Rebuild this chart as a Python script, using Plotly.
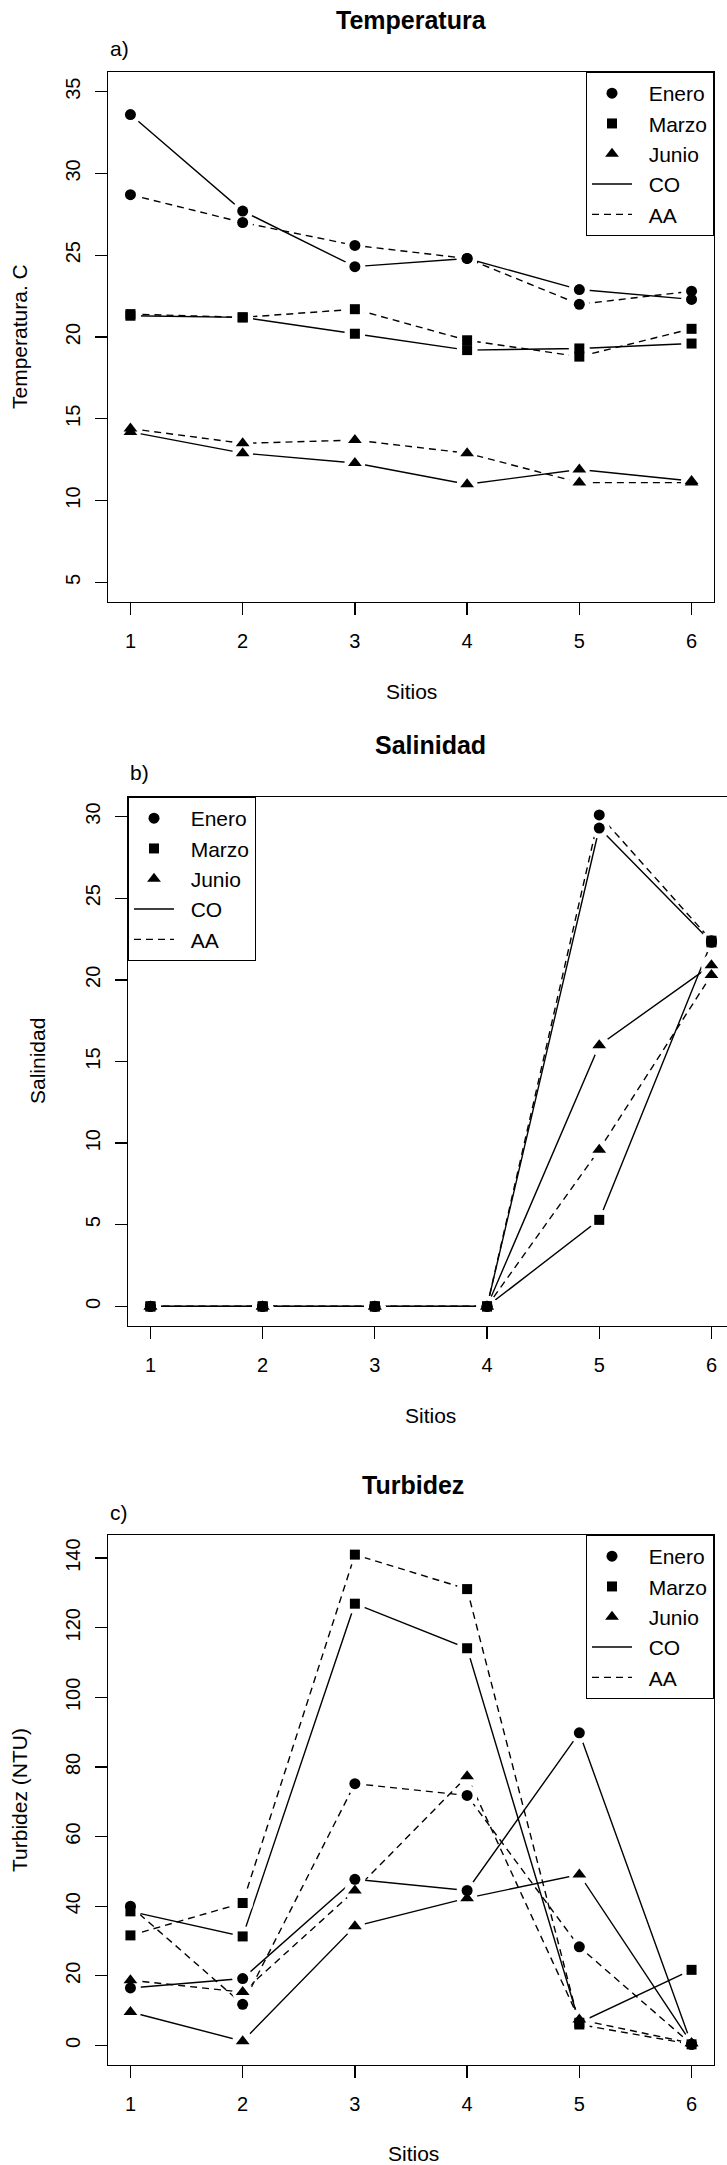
import plotly.graph_objects as go

# ---------------- data ----------------
sitios = [1, 2, 3, 4, 5, 6]
meses = ["Enero", "Marzo", "Junio"]
tratamientos = ["CO", "AA"]

# Temperatura (C)
temp_enero_co = [33.6, 27.7, 24.3, 24.8, 22.9, 22.3]
temp_enero_aa = [28.7, 27.0, 25.6, 24.8, 22.0, 22.8]
temp_marzo_co = [21.3, 21.2, 20.2, 19.2, 19.3, 19.6]
temp_marzo_aa = [21.4, 21.2, 21.7, 19.8, 18.8, 20.5]
temp_junio_co = [14.2, 12.9, 12.3, 11.0, 11.9, 11.2]
temp_junio_aa = [14.4, 13.5, 13.7, 12.9, 11.1, 11.1]

# Salinidad
sal_enero_co = [0, 0, 0, 0, 29.3, 22.3]
sal_enero_aa = [0, 0, 0, 0, 30.1, 22.4]
sal_marzo_co = [0, 0, 0, 0, 5.3, 22.3]
sal_marzo_aa = [0, 0, 0, 0, None, 22.4]
sal_junio_co = [0, 0, 0, 0, 16.0, 20.9]
sal_junio_aa = [0, 0, 0, 0, 9.6, 20.3]

# Turbidez (NTU)
turb_enero_co = [16.5, 19.2, 47.7, 44.5, 89.8, 0.3]
turb_enero_aa = [40.0, 11.8, 75.2, 71.8, 28.3, 0.3]
turb_marzo_co = [38.5, 31.3, 126.9, 114.1, 6.5, 21.7]
turb_marzo_aa = [31.6, 40.9, 141.0, 131.1, 6.0, 0.3]
turb_junio_co = [9.6, 1.2, 34.2, 42.3, 49.1, 0.6]
turb_junio_aa = [18.7, 15.3, 44.5, 77.3, 7.4, 0.6]

temp_ticks = [5, 10, 15, 20, 25, 30, 35]
sal_ticks = [0, 5, 10, 15, 20, 25, 30]
turb_ticks = [0, 20, 40, 60, 80, 100, 120, 140]

# ---------------- styling ----------------
W, H = 727, 2165
FONT = "Liberation Sans, Arial, sans-serif"


def fx(p):
    return p / W


def fy(p):
    return 1 - p / H


symbols = {"Enero": "circle", "Marzo": "square", "Junio": "triangle-up"}
msize = {"Enero": 11, "Marzo": 10, "Junio": 12}
dashes = {"CO": "solid", "AA": "7px,5px"}

panels = [
    dict(
        ax="", legend="legend",
        series={("Enero", "CO"): temp_enero_co, ("Enero", "AA"): temp_enero_aa,
                ("Marzo", "CO"): temp_marzo_co, ("Marzo", "AA"): temp_marzo_aa,
                ("Junio", "CO"): temp_junio_co, ("Junio", "AA"): temp_junio_aa},
        xdom=[fx(108), fx(714)], ydom=[fy(602), fy(72)],
        xrange=[0.8, 6.2], yrange=[3.8, 36.2], yticks=temp_ticks,
        leg=dict(x=fx(714), y=fy(72), xanchor="right", yanchor="top"),
        title=("Temperatura", 411, 20), tag=("a)", 108, 48),
        xlab=("Sitios", 411, 692), ylab=("Temperatura. C", 19, 337),
    ),
    dict(
        ax="2", legend="legend2",
        series={("Enero", "CO"): sal_enero_co, ("Enero", "AA"): sal_enero_aa,
                ("Marzo", "CO"): sal_marzo_co, ("Marzo", "AA"): sal_marzo_aa,
                ("Junio", "CO"): sal_junio_co, ("Junio", "AA"): sal_junio_aa},
        xdom=[fx(128), 1.0], ydom=[fy(1326), fy(797)],
        xrange=[0.8, 0.8 + 599 / 112.2], yrange=[-1.2, 31.2], yticks=sal_ticks,
        leg=dict(x=fx(128), y=fy(797), xanchor="left", yanchor="top"),
        title=("Salinidad", 430, 745), tag=("b)", 128, 773),
        xlab=("Sitios", 430, 1415), ylab=("Salinidad", 37, 1061),
    ),
    dict(
        ax="3", legend="legend3",
        series={("Enero", "CO"): turb_enero_co, ("Enero", "AA"): turb_enero_aa,
                ("Marzo", "CO"): turb_marzo_co, ("Marzo", "AA"): turb_marzo_aa,
                ("Junio", "CO"): turb_junio_co, ("Junio", "AA"): turb_junio_aa},
        xdom=[fx(108), fx(714)], ydom=[fy(2065), fy(1535)],
        xrange=[0.8, 6.2], yrange=[-5.64, 146.64], yticks=turb_ticks,
        leg=dict(x=fx(714), y=fy(1535), xanchor="right", yanchor="top"),
        title=("Turbidez", 413, 1485), tag=("c)", 108, 1512),
        xlab=("Sitios", 413, 2153), ylab=("Turbidez (NTU)", 19, 1800),
    ),
]

fig = go.Figure()
annotations = []
layout = {}

for p in panels:
    xa, ya = "x" + p["ax"], "y" + p["ax"]
    # lines
    for (m, t), vals in p["series"].items():
        fig.add_trace(go.Scatter(
            x=sitios, y=vals, mode="lines", xaxis=xa, yaxis=ya,
            line=dict(color="black", width=1.4, dash=dashes[t]),
            showlegend=False, hoverinfo="skip"))
    # white gaps around points (type="b" look)
    for (m, t), vals in p["series"].items():
        fig.add_trace(go.Scatter(
            x=sitios, y=vals, mode="markers", xaxis=xa, yaxis=ya,
            marker=dict(symbol="circle", size=21, color="white"),
            showlegend=False, hoverinfo="skip"))
    # point symbols
    for (m, t), vals in p["series"].items():
        fig.add_trace(go.Scatter(
            x=sitios, y=vals, mode="markers", xaxis=xa, yaxis=ya,
            marker=dict(symbol=symbols[m], size=msize[m], color="black"),
            name=f"{m} {t}", showlegend=False))
    # legend entries
    for m in meses:
        fig.add_trace(go.Scatter(
            x=[None], y=[None], mode="markers", xaxis=xa, yaxis=ya,
            marker=dict(symbol=symbols[m], size=msize[m], color="black"),
            name="\u00a0\u00a0" + m, legend=p["legend"], showlegend=True))
    for t in tratamientos:
        fig.add_trace(go.Scatter(
            x=[None], y=[None], mode="lines", xaxis=xa, yaxis=ya,
            line=dict(color="black", width=1.4, dash=dashes[t]),
            name="\u00a0\u00a0" + t, legend=p["legend"], showlegend=True))

    axcommon = dict(showline=True, linecolor="black", linewidth=1.3, mirror=True,
                    ticks="outside", ticklen=12, tickwidth=1.3, tickcolor="black",
                    showgrid=False, zeroline=False,
                    tickfont=dict(size=20, color="black", family=FONT))
    layout["xaxis" + p["ax"]] = dict(domain=p["xdom"], range=p["xrange"],
                                     tickvals=sitios, anchor=ya,
                                     ticklabelstandoff=9, **axcommon)
    layout["yaxis" + p["ax"]] = dict(domain=p["ydom"], range=p["yrange"],
                                     tickvals=p["yticks"], tickangle=-90,
                                     anchor=xa, ticklabelstandoff=7, **axcommon)
    layout[p["legend"]] = dict(**p["leg"], bordercolor="black", borderwidth=1,
                               bgcolor="white", itemwidth=40,
                               font=dict(size=21, color="black", family=FONT))

    txt, x, y = p["title"]
    annotations.append(dict(text=f"<b>{txt}</b>", x=fx(x), y=fy(y), xref="paper", yref="paper",
                            xanchor="center", yanchor="middle", showarrow=False,
                            font=dict(size=25, color="black", family=FONT)))
    txt, x, y = p["tag"]
    annotations.append(dict(text=txt, x=fx(x), y=fy(y), xref="paper", yref="paper",
                            xanchor="left", yanchor="middle", showarrow=False,
                            font=dict(size=21, color="black", family=FONT)))
    txt, x, y = p["xlab"]
    annotations.append(dict(text=txt, x=fx(x), y=fy(y), xref="paper", yref="paper",
                            xanchor="center", yanchor="middle", showarrow=False,
                            font=dict(size=21, color="black", family=FONT)))
    txt, x, y = p["ylab"]
    annotations.append(dict(text=txt, x=fx(x), y=fy(y), xref="paper", yref="paper",
                            xanchor="center", yanchor="middle", showarrow=False,
                            textangle=-90,
                            font=dict(size=21, color="black", family=FONT)))

fig.update_layout(
    width=W, height=H, autosize=False,
    margin=dict(l=0, r=0, t=0, b=0),
    paper_bgcolor="white", plot_bgcolor="white",
    font=dict(family=FONT, color="black"),
    annotations=annotations,
    hovermode=False,
    **layout,
)

fig.write_html("out.html",
               config={"displayModeBar": False, "staticPlot": True},
               post_script="document.body.style.margin='0';document.body.style.overflow='hidden';")
